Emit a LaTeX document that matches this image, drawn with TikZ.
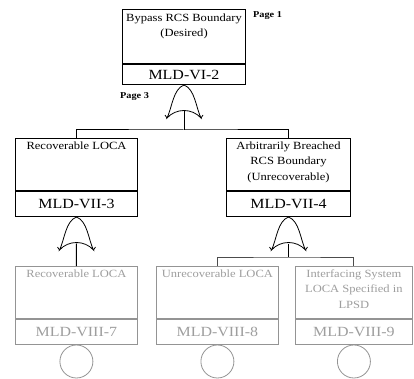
\documentclass[tikz,border=0pt]{standalone}
\usepackage{fontspec}
\setmainfont[FakeStretch=1.14]{Liberation Serif}
\usetikzlibrary{calc}
\definecolor{dimline}{gray}{0.58}
\definecolor{dimtext}{gray}{0.62}
\tikzset{
  upbox/.style={draw, line width=1pt, anchor=north west, inner sep=0pt, minimum height=#1},
  idbox/.style={draw, line width=1pt, anchor=north west, inner sep=0pt, minimum height=#1,
    font=\fontsize{14}{16}\selectfont},
  dim/.style={draw=dimline, text=dimtext, line width=0.8pt},
  conn/.style={line width=1pt},
  dimconn/.style={line width=1pt, draw=black!70},
  evt/.style={circle, draw=dimline, line width=0.8pt, minimum size=33pt, inner sep=0pt, anchor=north},
  pagelbl/.style={font=\fontsize{9}{11}\selectfont\bfseries, inner sep=0pt},
  gateline/.style={line width=0.8pt},
  orgate/.pic={
    \draw[gateline] (-17,16) .. controls (-12,6) and (-11,-13) .. (0,-17)
      .. controls (11,-13) and (12,6) .. (17,16)
      .. controls (8,6) and (-8,6) .. cycle;
    \draw[gateline] (-17,16) -- (-19,13);
    \draw[gateline] (17,16) -- (19,13);
    \coordinate (-out) at (0,-17);
    \coordinate (-in) at (0,9.5);
  }
}
\newcommand{\boxtext}[2]{\parbox[c][46pt][t]{#1}{\centering\fontsize{11}{15.5}\selectfont #2}}
\begin{document}
\begin{tikzpicture}[x=1pt,y=-1pt]
\useasboundingbox[fill=white] (0,0) rectangle (414,379);

% top event
\node[upbox=54pt, minimum width=123pt] (top) at (122,9) {\boxtext{120pt}{Bypass RCS Boundary\\(Desired)}};
\node[idbox=20pt, minimum width=123pt] (topid) at (top.south west) {MLD-VI-2};
\node[pagelbl, anchor=west] (p1) at (253,16) {Page 1};
\node[pagelbl, anchor=west] (p3) at (120,97) {Page 3};

% middle row
\node[upbox=52pt, minimum width=122pt] (lup) at (15,138) {\boxtext{118pt}{Recoverable LOCA}};
\node[idbox=25pt, minimum width=122pt] (lid) at (lup.south west) {MLD-VII-3};
\node[upbox=52pt, minimum width=124pt] (rup) at (226,138) {\boxtext{120pt}{Arbitrarily Breached\\RCS Boundary\\(Unrecoverable)}};
\node[idbox=25pt, minimum width=124pt] (rid) at (rup.south west) {MLD-VII-4};

% bottom row
\node[upbox=52pt, dim, minimum width=122pt] (bl) at (15,266) {\boxtext{118pt}{Recoverable LOCA}};
\node[idbox=25pt, dim, minimum width=122pt] (blid) at (bl.south west) {MLD-VIII-7};
\node[upbox=52pt, dim, minimum width=122pt] (bm) at (156,266) {\boxtext{118pt}{Unrecoverable LOCA}};
\node[idbox=25pt, dim, minimum width=122pt] (bmid) at (bm.south west) {MLD-VIII-8};
\node[upbox=52pt, dim, minimum width=117pt] (br) at (295,266) {\boxtext{114pt}{Interfacing System\\LOCA Specified in\\LPSD}};
\node[idbox=25pt, dim, minimum width=117pt] (brid) at (br.south west) {MLD-VIII-9};

\node[evt] (c1) at (blid.south) {};
\node[evt] (c2) at (bmid.south) {};
\node[evt] (c3) at (brid.south) {};

% gates
\pic (g1) at ($(topid.south)+(0,17)$) {orgate};
\pic (g2) at ($(lid.south)+(0,17)$) {orgate};
\pic (g3) at ($(rid.south)+(0,17)$) {orgate};

\coordinate (bus1) at (g1-in |- 0,130);
\coordinate (bus2) at (g3-in |- 0,257);

\draw[conn] (g1-in) -- (bus1);
\draw[conn] (lup.north) |- (bus1) -| (rup.north);
\draw[conn] (g2-in) -- (bl.north);
\draw[conn] (g3-in) -- (bus2);
\draw[dimconn] (bm.north) |- (bus2) -| (br.north);
\end{tikzpicture}
\end{document}
